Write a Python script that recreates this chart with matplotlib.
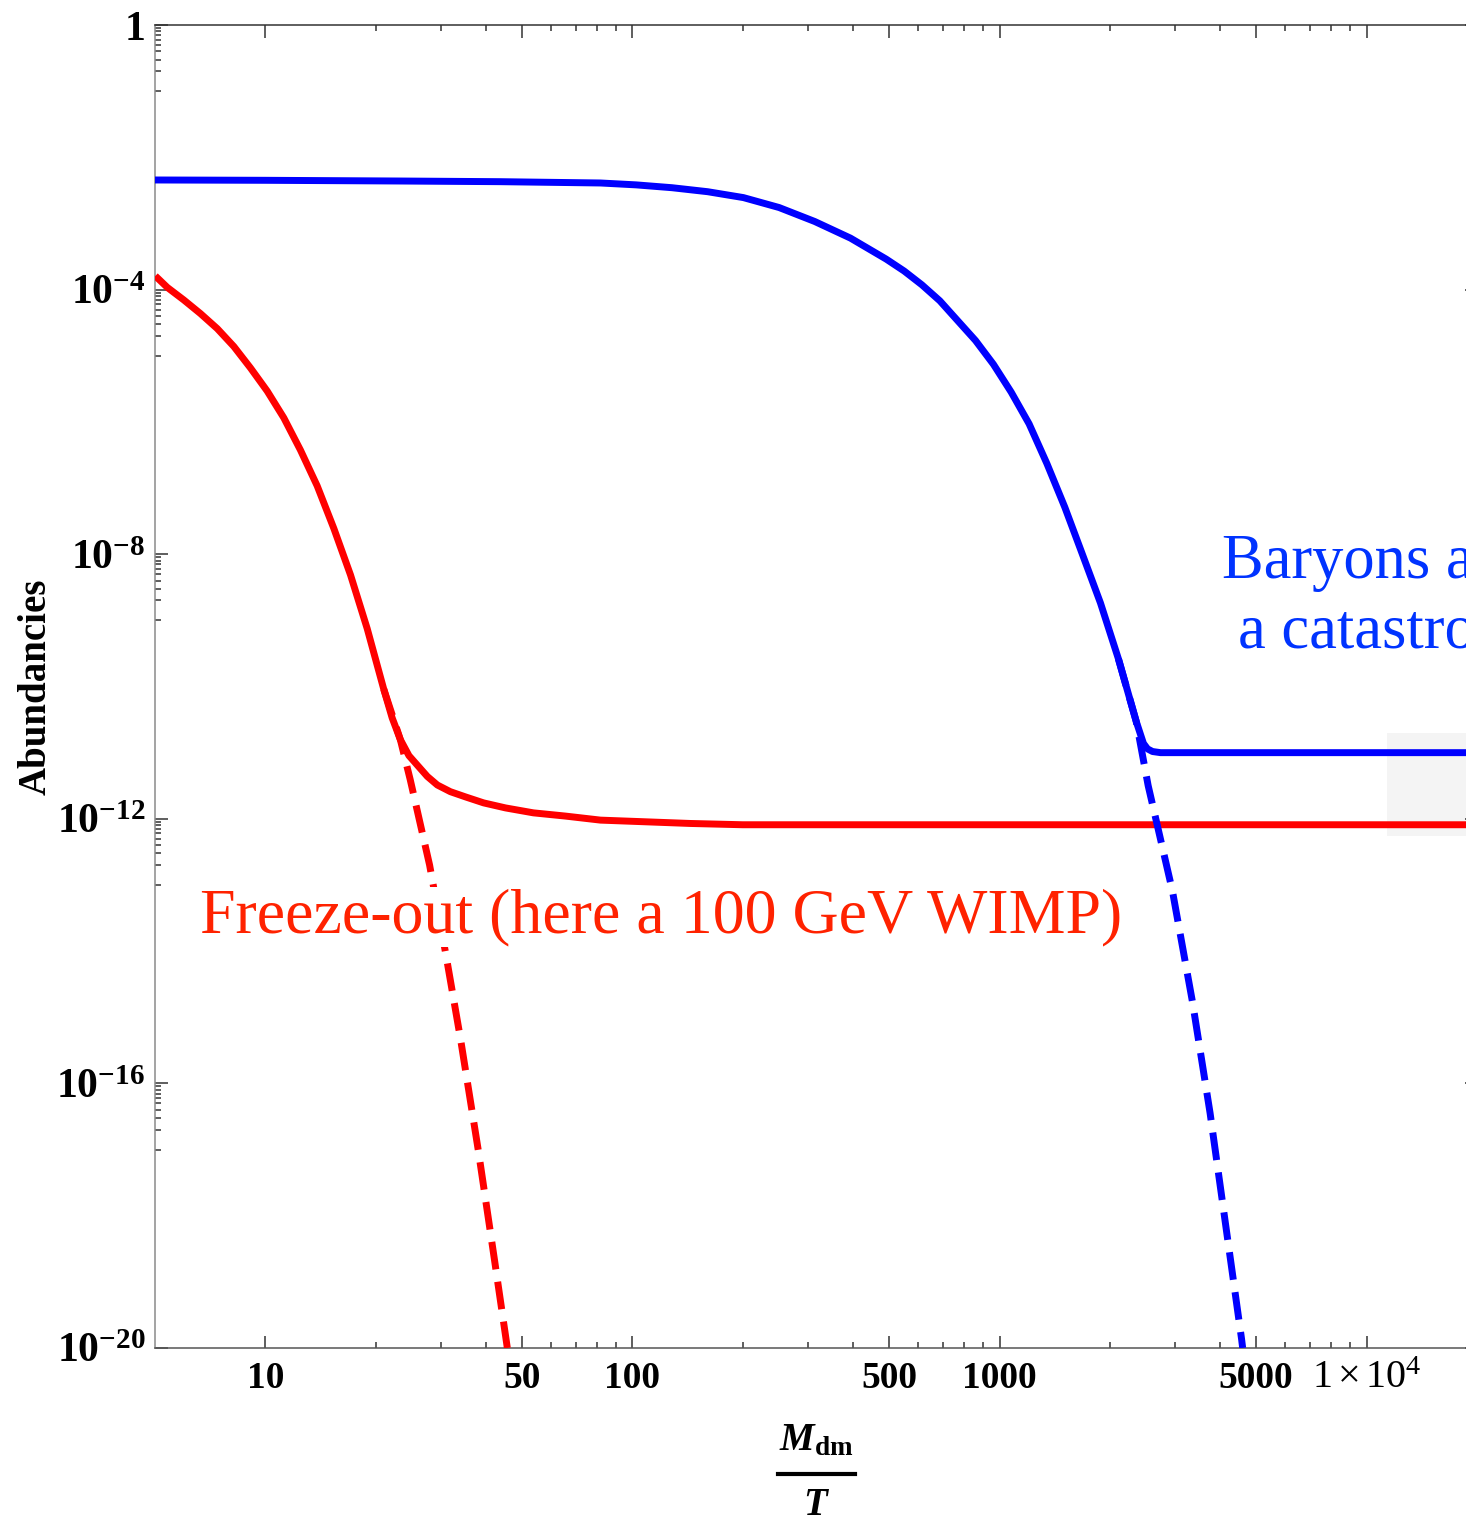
import matplotlib
matplotlib.use("Agg")
import matplotlib.pyplot as plt
from matplotlib.patches import Rectangle
from matplotlib.lines import Line2D
from matplotlib.ticker import FixedLocator, FixedFormatter, NullFormatter

plt.rcParams['font.family'] = 'Liberation Serif'
plt.rcParams['mathtext.fontset'] = 'custom'
plt.rcParams['mathtext.rm'] = 'Liberation Serif:bold'
plt.rcParams['mathtext.it'] = 'Liberation Serif:italic:bold'
plt.rcParams['mathtext.bf'] = 'Liberation Serif:bold'

# baryon abundance vs M/T (solid), freezes out near 1e-11
baryon_x = [5.0, 10, 23.3, 43.6, 81.8, 102.3, 128.1, 160.2, 200.5, 250.9,
            313.8, 392.6, 491.2, 549.7, 614.6, 687.7, 768.8, 860.2, 962.5,
            1076, 1204, 1346, 1506, 1684, 1884, 2109, 2358, 2467, 2531,
            2612, 2746, 20000]
baryon_y = [4.54e-3, 4.49e-3, 4.38e-3, 4.28e-3, 4.09e-3, 3.83e-3, 3.47e-3,
            3.02e-3, 2.46e-3, 1.74e-3, 1.07e-3, 6.00e-4, 2.89e-4, 1.91e-4,
            1.18e-4, 6.77e-5, 3.40e-5, 1.70e-5, 7.43e-6, 2.82e-6, 9.35e-7,
            2.35e-7, 5.15e-8, 9.8e-9, 1.83e-9, 2.61e-10, 2.96e-11,
            1.38e-11, 1.14e-11, 1.04e-11, 1.00e-11, 1.00e-11]

# baryon equilibrium continuation (dashed)
baryon_eq_x = [2109, 2358, 2541, 2959, 3356, 3748, 4130, 4565, 4598]
baryon_eq_y = [2.61e-10, 2.96e-11, 3.18e-12, 8.13e-14, 1.70e-15, 3.55e-17,
               7.41e-19, 1.38e-20, 1.0e-20]

# WIMP abundance (solid), freeze-out plateau near 8e-13
wimp_x = [5.01, 5.40, 5.99, 6.65, 7.39, 8.20, 9.10, 10.11, 11.22, 12.45,
          13.83, 15.36, 17.05, 18.93, 21.0, 22.14, 23.3, 24.6, 27.6, 29.4,
          31.9, 35.1, 39.3, 45.1, 53.7, 65.6, 81.8, 143.8, 199.5, 20000]
wimp_y = [1.61e-4, 1.08e-4, 6.97e-5, 4.34e-5, 2.57e-5, 1.38e-5, 6.55e-6,
          2.92e-6, 1.15e-6, 3.76e-7, 1.08e-7, 2.44e-8, 4.85e-9, 7.50e-10,
          9.12e-11, 3.35e-11, 1.58e-11, 9.0e-12, 4.37e-12, 3.24e-12,
          2.57e-12, 2.14e-12, 1.74e-12, 1.46e-12, 1.23e-12, 1.10e-12,
          9.55e-13, 8.5e-13, 8.13e-13, 8.13e-13]

# WIMP equilibrium continuation (dashed)
wimp_eq_x = [21.0, 23.3, 24.8, 28.0, 31.1, 34.0, 38.0, 42.1, 45.6]
wimp_eq_y = [9.12e-11, 1.58e-11, 3.89e-12, 2.00e-13, 8.13e-15, 4.68e-16,
             9.77e-18, 2.09e-19, 1.0e-20]

x_major = [10, 50, 100, 500, 1000, 5000, 10000]
x_major_labels = ['10', '50', '100', '500', '1000', '5000',
                  r'$\mathregular{1\,×\,10^{4}}$']
x_minor = [20, 30, 40, 60, 70, 80, 90, 200, 300, 400, 600, 700, 800, 900,
           2000, 3000, 4000, 6000, 7000, 8000, 9000, 20000]
y_exponents = [0, -4, -8, -12, -16, -20]

W, H = 1466, 1524
fig = plt.figure(figsize=(W / 100, H / 100), dpi=100)
ax = fig.add_axes([155 / W, 1 - 1348 / H, (1477 - 155) / W, (1348 - 25) / H])

red = '#ff0000'
blue = '#0000ff'
ax.plot(wimp_x, wimp_y, color=red, lw=5, solid_capstyle='butt',
        solid_joinstyle='round', zorder=3)
ax.plot(wimp_eq_x, wimp_eq_y, color=red, lw=5, dashes=(4, 1.8), zorder=3)
ax.plot(baryon_x, baryon_y, color=blue, lw=5, solid_capstyle='butt',
        solid_joinstyle='round', zorder=4)
ax.plot(baryon_eq_x, baryon_eq_y, color=blue, lw=5, dashes=(4, 1.8), zorder=4)

ax.set_xscale('log')
ax.set_yscale('log')
ax.set_xlim(5, 2e4)
ax.set_ylim(1e-20, 1)

ax.xaxis.set_major_locator(FixedLocator(x_major))
ax.xaxis.set_major_formatter(FixedFormatter(x_major_labels))
ax.xaxis.set_minor_locator(FixedLocator(x_minor))
ax.xaxis.set_minor_formatter(NullFormatter())

y_major = [10.0 ** e for e in y_exponents]
y_labels = ['1'] + [r'$\mathregular{10^{%d}}$' % e for e in y_exponents[1:]]
y_minor = [m / 10 * 10.0 ** e for e in y_exponents[:-1] for m in range(1, 10)]
ax.yaxis.set_major_locator(FixedLocator(y_major))
ax.yaxis.set_major_formatter(FixedFormatter(y_labels))
ax.yaxis.set_minor_locator(FixedLocator(y_minor))
ax.yaxis.set_minor_formatter(NullFormatter())

ax.tick_params(which='both', direction='in', top=True, right=True,
               width=1.1, color='#333333')
ax.tick_params(which='major', length=9)
ax.tick_params(which='minor', length=4.5)
ax.tick_params(axis='x', which='major', labelsize=27, pad=9)
ax.tick_params(axis='y', which='major', labelsize=30, pad=7)
for lab in ax.get_xticklabels() + ax.get_yticklabels():
    lab.set_fontweight('bold')
ax.get_xticklabels()[-1].set_fontweight('normal')
ax.get_xticklabels()[-1].set_fontsize(29)

ax.spines['left'].set_color('#8a8a8a')
ax.spines['bottom'].set_color('#555555')
ax.spines['top'].set_color('#333333')
ax.spines['right'].set_color('#333333')
for s in ax.spines.values():
    s.set_linewidth(1.1)

# faint patch behind the plateaus on the right
ax.add_patch(Rectangle((0.932, 0.387), 0.1, 0.078, transform=ax.transAxes,
                       facecolor='#f4f4f4', edgecolor='none', zorder=1))

ax.text(0.034, 0.3144, 'Freeze-out (here a 100 GeV WIMP)', color='#ff2200',
        fontsize=46, ha='left', va='baseline', transform=ax.transAxes,
        zorder=5, bbox=dict(facecolor='white', edgecolor='none', pad=1))
ax.text(0.807, 0.582, 'Baryons are', color='#0033ff', fontsize=45,
        ha='left', va='baseline', transform=ax.transAxes, zorder=5)
ax.text(0.819, 0.529, 'a catastrophe', color='#0033ff', fontsize=45,
        ha='left', va='baseline', transform=ax.transAxes, zorder=5)

# axis labels
fig.text(36 / W, 1 - 687 / H, 'Abundancies', rotation=90, ha='center',
         va='center', fontsize=28, fontweight='bold')
fig.text(816 / W, 1 - 1450 / H, r'$M_{\mathrm{dm}}$', ha='center',
         va='baseline', fontsize=28)
fig.text(817 / W, 1 - 1515 / H, r'$T$', ha='center', va='baseline',
         fontsize=28)
fig.add_artist(Line2D([778 / W, 855 / W], [1 - 1474 / H, 1 - 1474 / H],
                      transform=fig.transFigure, color='black', lw=3))

fig.savefig('out.png', dpi=100)
